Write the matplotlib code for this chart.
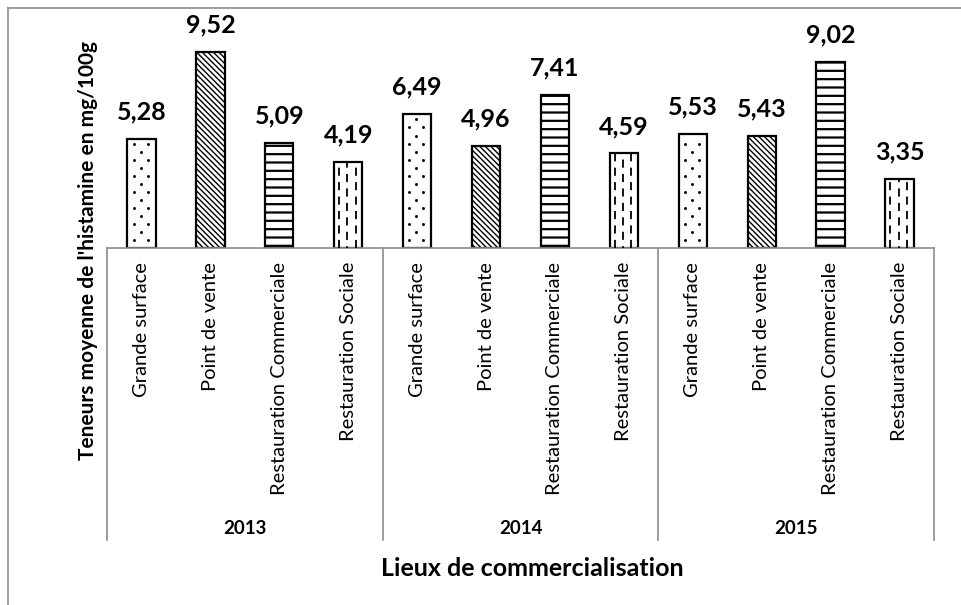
import numpy as np
import matplotlib
matplotlib.use('Agg')
import matplotlib.pyplot as plt
import matplotlib.transforms as mtransforms
from matplotlib.lines import Line2D

plt.rcParams['font.family'] = ['Lato', 'DejaVu Sans']

years = ['2013', '2014', '2015']
lieux = ['Grande surface', 'Point de vente', 'Restauration Commerciale', 'Restauration Sociale']
val_2013 = [5.28, 9.52, 5.09, 4.19]
val_2014 = [6.49, 4.96, 7.41, 4.59]
val_2015 = [5.53, 5.43, 9.02, 3.35]

W, H = 961, 605
GRIS = '#8c8c8c'

def fy(px):
    # pixel row -> figure fraction
    return 1 - px / H

fig = plt.figure(figsize=(W / 100, H / 100), dpi=100)
ax = fig.add_axes([107 / W, fy(248), (934 - 107) / W, (248 - 42) / H])

valeurs = [val_2013, val_2014, val_2015]
hatches = [None, '\\\\\\\\\\\\', '--', None]
hlw = [1.0, 1.0, 1.6, 1.0]
largeur = 0.41
pas = 0.39  # ecart vertical des motifs (unites de donnees)

x = 0
for vals in valeurs:
    for j, v in enumerate(vals):
        b = ax.bar(x, v, width=largeur, color='white', edgecolor='black',
                   linewidth=1.6, hatch=hatches[j], zorder=2)[0]
        if hasattr(b, 'set_hatch_linewidth'):
            b.set_hatch_linewidth(hlw[j])
        x0 = x - largeur / 2
        if j == 0:
            # pointille
            rangs = np.arange(pas, v - 0.15, pas)
            for r, yy in enumerate(rangs):
                fr = [0.22, 0.72] if r % 2 == 0 else [0.47]
                ax.plot([x0 + f * largeur for f in fr], [yy] * len(fr), 'o',
                        color='black', ms=2.1, mew=0, zorder=3)
        if j == 3:
            # hachures verticales en tirets
            for k, f in enumerate([0.18, 0.47, 0.76]):
                xx = x0 + f * largeur
                ax.plot([xx, xx], [0, v], color='black', lw=1.3,
                        linestyle=(3.5 if k == 1 else 0, (4.5, 3.5)),
                        dash_capstyle='butt', zorder=3)
        ax.annotate(f'{v:.2f}'.replace('.', ','), (x, v), xytext=(0, 14),
                    textcoords='offset points', ha='center', va='baseline',
                    fontsize=18, fontweight='bold')
        x += 1

n = x
ax.set_xlim(-0.5, n - 0.5)
ax.set_ylim(0, 10)
for s in ['top', 'right', 'left']:
    ax.spines[s].set_visible(False)
ax.spines['bottom'].set_color(GRIS)
ax.spines['bottom'].set_linewidth(1.2)
ax.set_xticks([])
ax.set_yticks([])

trans = mtransforms.blended_transform_factory(ax.transData, fig.transFigure)

# libelles des lieux
for i in range(n):
    ax.text(i, fy(262), lieux[i % 4], transform=trans, rotation=90,
            ha='center', va='top', fontsize=14.5)

# separateurs et annees
for g in range(len(years) + 1):
    xs = g * 4 - 0.5
    ax.add_line(Line2D([xs, xs], [fy(248), fy(540)], transform=trans,
                       color=GRIS, lw=1.2, clip_on=False))
for g, an in enumerate(years):
    ax.text(g * 4 + 1.5, fy(528), an, transform=trans, ha='center',
            va='center', fontsize=13.5, fontweight='bold')

fig.text(532 / W, fy(568), 'Lieux de commercialisation', ha='center',
         va='center', fontsize=18, fontweight='bold')
fig.text(88 / W, fy(250), "Teneurs moyenne de l'histamine en mg/100g",
         rotation=90, ha='center', va='center', fontsize=15, fontweight='bold')

# cadre exterieur
fig.add_artist(Line2D([8 / W, 8 / W], [0, fy(8)], color=GRIS, lw=1.2))
fig.add_artist(Line2D([8 / W, 1], [fy(8), fy(8)], color=GRIS, lw=1.2))

fig.savefig('out.png', dpi=100)
